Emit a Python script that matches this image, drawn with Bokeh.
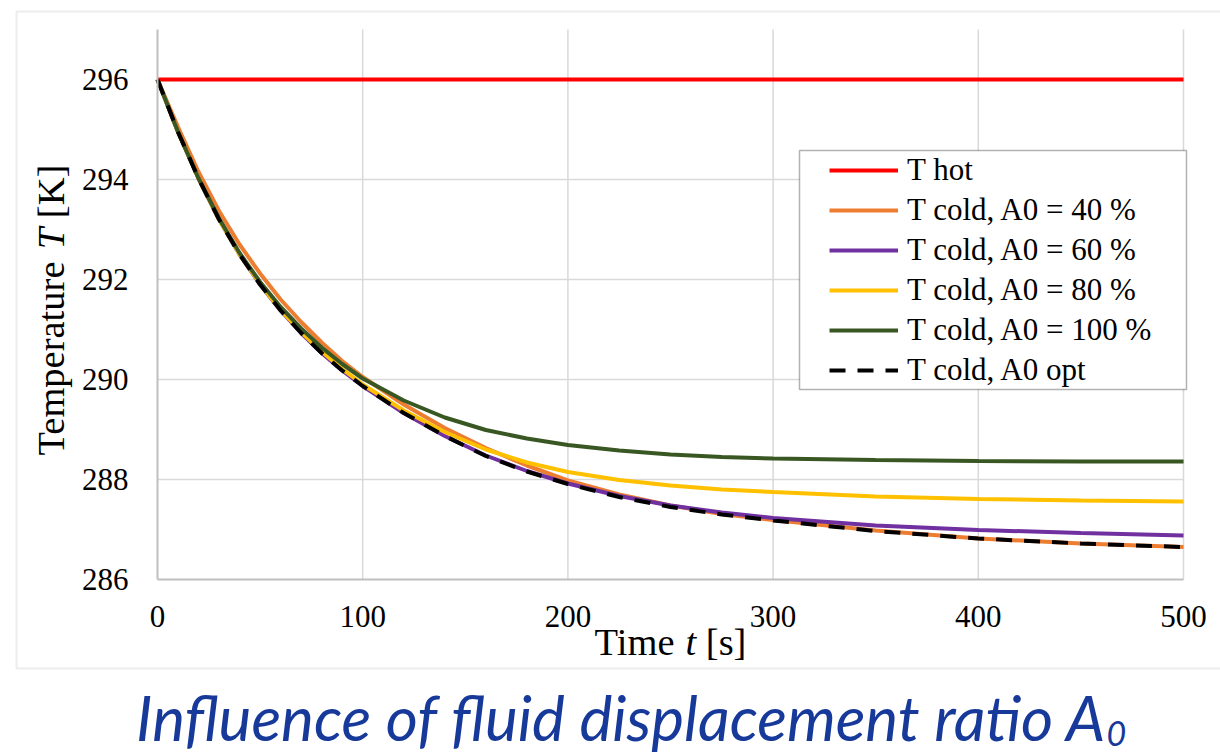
import math
from bokeh.plotting import figure
from bokeh.models import Range1d, Label, BoxAnnotation, Legend, LegendItem, FixedTicker, LinearAxis
from bokeh.embed import file_html
from bokeh.resources import INLINE

# ---------------- data ----------------
time_s = [0, 10, 20, 30, 40, 50, 60, 70, 80, 90, 100, 120, 140, 160, 180,
          200, 225, 250, 275, 300, 350, 400, 450, 500]

hot_time = [0, 500]
t_hot = [296.0, 296.0]

t_cold_40 = [296.0, 295.05, 294.15, 293.37, 292.7, 292.12, 291.6, 291.15, 290.74, 290.37,
             290.05, 289.5, 289.03, 288.63, 288.28, 287.98, 287.7, 287.48, 287.31, 287.19,
             286.98, 286.82, 286.72, 286.65]
t_cold_60 = [296.0, 294.95, 294.02, 293.2, 292.5, 291.9, 291.38, 290.93, 290.53, 290.18,
             289.87, 289.33, 288.87, 288.48, 288.17, 287.92, 287.67, 287.48, 287.34, 287.23,
             287.08, 286.99, 286.93, 286.88]
t_cold_80 = [296.0, 294.95, 294.02, 293.2, 292.5, 291.91, 291.39, 290.95, 290.56, 290.21,
             289.9, 289.38, 288.95, 288.6, 288.34, 288.15, 287.99, 287.88, 287.8, 287.75,
             287.66, 287.61, 287.58, 287.56]
t_cold_100 = [296.0, 294.95, 294.02, 293.22, 292.53, 291.95, 291.45, 291.02, 290.64, 290.31,
              290.02, 289.58, 289.24, 288.99, 288.82, 288.69, 288.58, 288.5, 288.45, 288.42,
              288.39, 288.37, 288.36, 288.36]
t_cold_opt = [296.0, 294.95, 294.02, 293.2, 292.5, 291.9, 291.38, 290.93, 290.53, 290.18,
              289.87, 289.33, 288.87, 288.47, 288.16, 287.91, 287.65, 287.45, 287.3, 287.18,
              286.97, 286.82, 286.72, 286.65]

x_ticks = [0, 100, 200, 300, 400, 500]
y_ticks = [286, 288, 290, 292, 294, 296]
x_grid = [100, 200, 300, 400, 500]
y_grid = [288, 290, 292, 294, 296]

series_labels = ["T hot", "T cold, A0 = 40 %", "T cold, A0 = 60 %",
                 "T cold, A0 = 80 %", "T cold, A0 = 100 %", "T cold, A0 opt"]

# ---------------- layout helpers (pixel anchors of the plot area) ----------------
W, H = 1220, 755
F_LEFT, F_RIGHT, F_TOP, F_BOTTOM = 157, 1183, 29, 579
X0, X1, Y0, Y1 = 0, 500, 286, 297
SX = (F_RIGHT - F_LEFT) / (X1 - X0)
SY = (F_BOTTOM - F_TOP) / (Y1 - Y0)
BASE_SHIFT = 0.34   # em offset between requested and drawn baseline for Label (serif)
BASE_SHIFT_LATO = 0.31


def dx(px):
    return X0 + (px - F_LEFT) / SX


def dy(py):
    return Y0 + (F_BOTTOM - py) / SY


SERIF = "Liberation Serif"

p = figure(width=W, height=H,
           x_range=Range1d(dx(0), dx(W)), y_range=Range1d(dy(H), dy(0)),
           output_backend="svg", toolbar_location=None,
           x_axis_location=None, y_axis_location=None,
           min_border_left=0, min_border_right=0, min_border_top=0, min_border_bottom=0)
p.outline_line_color = None
p.background_fill_color = "white"
p.border_fill_color = "white"
p.xgrid.visible = False
p.ygrid.visible = False

# outer chart border
p.add_layout(BoxAnnotation(left=dx(16), right=dx(1260), top=dy(11), bottom=dy(668),
                           fill_alpha=0, line_color="#c4c4c4", line_width=2))

# gridlines
p.segment(x0=x_grid, x1=x_grid, y0=[Y0] * len(x_grid), y1=[Y1] * len(x_grid),
          line_color="#d9d9d9", line_width=1.5, level="underlay")
p.segment(x0=[X0] * len(y_grid), x1=[X1] * len(y_grid), y0=y_grid, y1=y_grid,
          line_color="#d9d9d9", line_width=1.5, level="underlay")

# axes
xaxis = LinearAxis(fixed_location=Y0, bounds=(X0, X1), ticker=FixedTicker(ticks=x_ticks))
yaxis = LinearAxis(fixed_location=X0, bounds=(Y0, Y1), ticker=FixedTicker(ticks=y_ticks))
for ax in (xaxis, yaxis):
    ax.axis_line_color = "#bfbfbf"
    ax.axis_line_width = 2
    ax.major_tick_line_color = None
    ax.minor_tick_line_color = None
    ax.major_tick_out = 0
    ax.major_tick_in = 0
    ax.major_label_text_font = SERIF
    ax.major_label_text_font_size = "31px"
    ax.major_label_text_color = "black"
xaxis.major_label_standoff = 26
yaxis.major_label_standoff = 29
p.add_layout(xaxis, "below")
p.add_layout(yaxis, "left")

LW = 4
r_hot = p.line(hot_time, t_hot, line_color="#FF0000", line_width=LW)
r40 = p.line(time_s, t_cold_40, line_color="#ED7D31", line_width=LW)
r60 = p.line(time_s, t_cold_60, line_color="#7030A0", line_width=LW)
r80 = p.line(time_s, t_cold_80, line_color="#FFC000", line_width=LW)
r100 = p.line(time_s, t_cold_100, line_color="#385723", line_width=LW)
ropt = p.line(time_s, t_cold_opt, line_color="black", line_width=LW, line_dash="16 12")

# legend frame + legend
p.add_layout(BoxAnnotation(left=dx(799), right=dx(1186), top=dy(150), bottom=dy(389),
                           fill_color="white", fill_alpha=1, line_color="black",
                           line_width=1.5))
legend = Legend(items=[LegendItem(label=l, renderers=[r]) for l, r in
                       zip(series_labels, [r_hot, r40, r60, r80, r100, ropt])],
                location=(829, H - 390), padding=0, spacing=0,
                label_height=40, glyph_height=40, glyph_width=69, label_standoff=9,
                label_text_font=SERIF, label_text_font_size="31px",
                label_text_color="black", border_line_alpha=0,
                background_fill_alpha=0, margin=0)
p.add_layout(legend)


# axis titles (pieces, with italic symbols); Times metrics per 1000 em
SPACE = 250


def add_pieces(pieces, start_px, base_px, size, vertical):
    pos = start_px
    base = base_px - BASE_SHIFT * size
    for txt, style, adv in pieces:
        if vertical:
            lab = Label(x=dx(base), y=dy(pos), text=txt, angle=math.pi / 2,
                        text_align="left", text_baseline="alphabetic")
            pos -= (adv + SPACE) * size / 1000
        else:
            lab = Label(x=dx(pos), y=dy(base), text=txt,
                        text_align="left", text_baseline="alphabetic")
            pos += (adv + SPACE) * size / 1000
        lab.text_font = SERIF
        lab.text_font_style = style
        lab.text_font_size = f"{size}px"
        lab.text_color = "black"
        p.add_layout(lab)


TSIZE = 38.5
y_pieces = [("Temperature", "normal", 5109), ("T", "italic", 556), ("[K]", "normal", 1388)]
add_pieces(y_pieces, 455, 64, TSIZE, True)

x_pieces = [("Time", "normal", 2111), ("t", "italic", 278), ("[s]", "normal", 1055)]
xlen = (sum(a for _, _, a in x_pieces) + 2 * SPACE) * TSIZE / 1000
add_pieces(x_pieces, (F_LEFT + F_RIGHT) / 2 - xlen / 2, 655, TSIZE, False)

# caption with subscript
CSIZE, SUBSIZE = 62, 34
BLUE = "#16399A"
cap = Label(x=dx(1107), y=dy(736 - BASE_SHIFT_LATO * CSIZE),
            text="Influence of fluid displacement ratio A",
            text_align="right", text_baseline="alphabetic")
sub = Label(x=dx(1106), y=dy(744 - BASE_SHIFT_LATO * SUBSIZE), text="0",
            text_align="left", text_baseline="alphabetic")
for lab, size in ((cap, CSIZE), (sub, SUBSIZE)):
    lab.text_font = "Lato"
    lab.text_font_style = "italic"
    lab.text_font_size = f"{size}px"
    lab.text_color = BLUE
    p.add_layout(lab)

open("out.html", "w").write(file_html(p, INLINE))
